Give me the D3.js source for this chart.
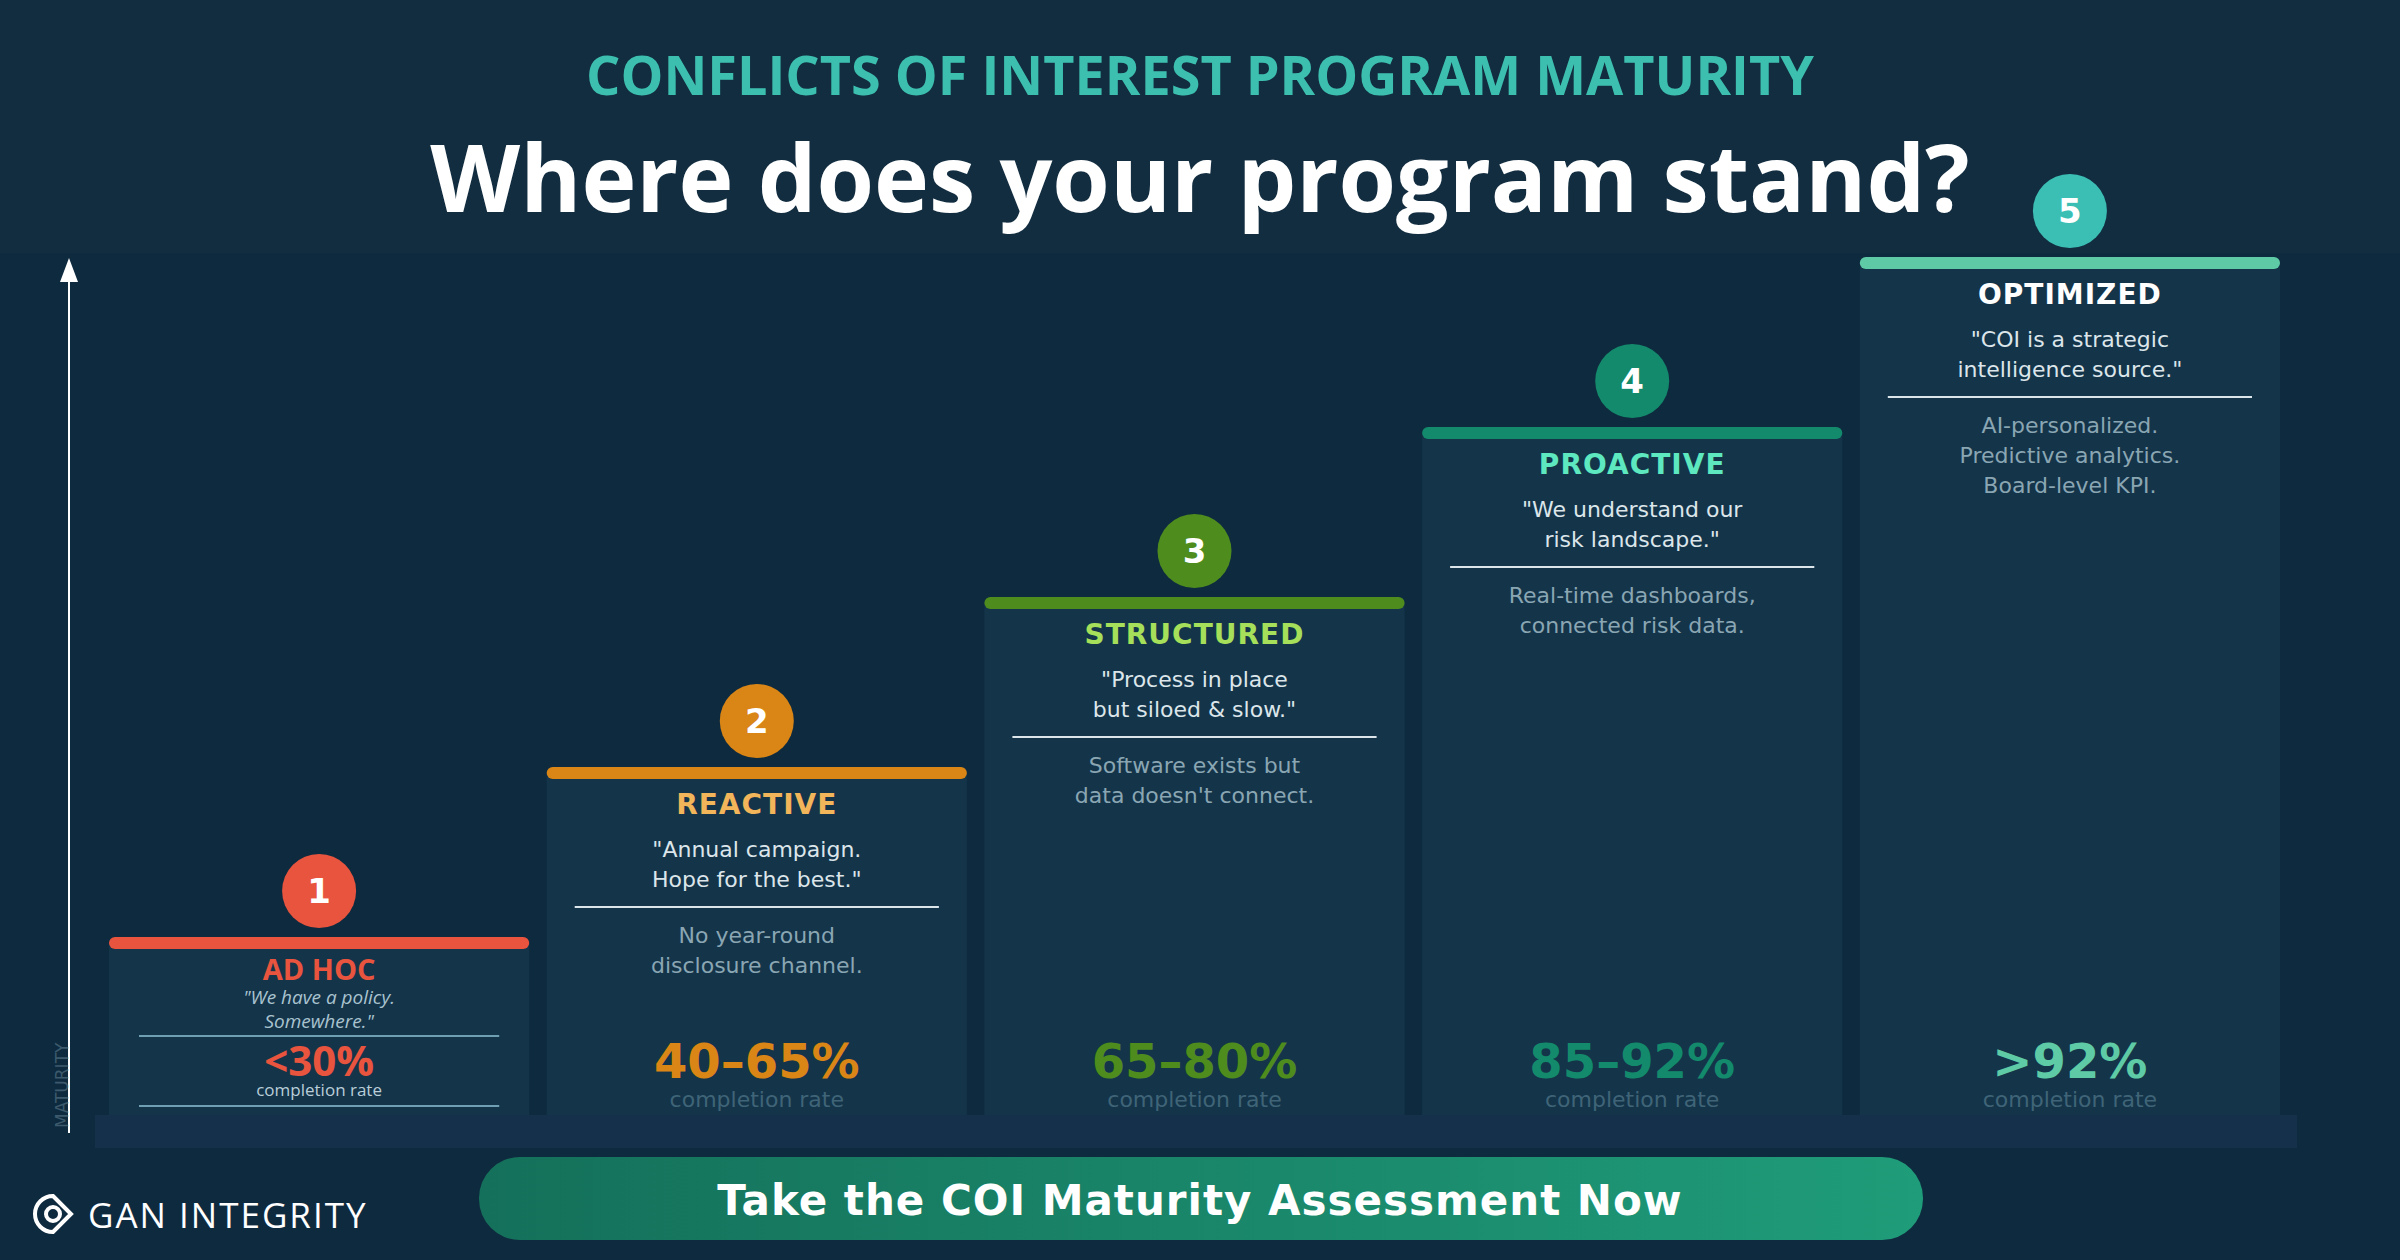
<!DOCTYPE html>
<html><head><meta charset="utf-8">
<script src="https://cdn.jsdelivr.net/npm/d3@7"></script>
<style>
body{margin:0;background:#0e2a3f;}
svg{display:block;font-family:"DejaVu Sans",sans-serif;}
</style></head>
<body>
<svg id="c" width="2400" height="1260"></svg>
<script>
// chart data
const levels = [1, 2, 3, 4, 5];
const names = ["AD HOC", "REACTIVE", "STRUCTURED", "PROACTIVE", "OPTIMIZED"];
const quotes = [
  ["\"We have a policy.", "Somewhere.\""],
  ["\"Annual campaign.", "Hope for the best.\""],
  ["\"Process in place", "but siloed & slow.\""],
  ["\"We understand our", "risk landscape.\""],
  ["\"COI is a strategic", "intelligence source.\""]
];
const details = [
  [],
  ["No year-round", "disclosure channel."],
  ["Software exists but", "data doesn't connect."],
  ["Real-time dashboards,", "connected risk data."],
  ["AI-personalized.", "Predictive analytics.", "Board-level KPI."]
];
const rates = ["<30%", "40–65%", "65–80%", "85–92%", ">92%"];
const accent = ["#e8543e", "#d98616", "#4e8c1e", "#138a6b", "#5ecba6"];
const badge = ["#e8543e", "#d98616", "#4e8c1e", "#138a6b", "#3bbfb5"];
const nameCol = ["#e8543e", "#f2b55a", "#a6e05a", "#5de8c0", "#ffffff"];

const svg = d3.select("#c");

// header band
svg.append("rect").attr("width", 2400).attr("height", 253).attr("fill", "#122d40");
svg.append("text").attr("x", 1200).attr("y", 95).attr("text-anchor", "middle")
  .attr("fill", "#3dbfb0").attr("font-size", 54).attr("font-weight", "bold")
  .attr("font-family", "'Open Sans',sans-serif")
  .text("CONFLICTS OF INTEREST PROGRAM MATURITY");
svg.append("text").attr("x", 1200).attr("y", 212).attr("text-anchor", "middle")
  .attr("fill", "#fff").attr("font-size", 93).attr("font-weight", "bold")
  .attr("font-family", "'Open Sans',sans-serif")
  .text("Where does your program stand?");

const x = d3.scaleBand().domain(levels).range([109, 2280]).paddingInner(0.04);
const y = d3.scaleLinear().domain([0, 5]).range([1113, 263]);
const bottom = 1115;

// axis
svg.append("line").attr("x1", 69).attr("x2", 69).attr("y1", 1133).attr("y2", 270)
  .attr("stroke", "#fff").attr("stroke-width", 2);
svg.append("path").attr("d", "M60,282 L69,258 L78,282 Z").attr("fill", "#fff");
svg.append("text").attr("transform", "translate(68,1128) rotate(-90)")
  .attr("fill", "#3c5a6c").attr("font-size", 17).text("MATURITY");

const g = svg.selectAll("g.step").data(levels).join("g").attr("class", "step");
g.append("rect").attr("x", d => x(d)).attr("y", d => y(d))
  .attr("width", x.bandwidth()).attr("height", d => bottom - y(d)).attr("fill", "#14344a");
g.append("rect").attr("x", d => x(d)).attr("y", d => y(d) - 6)
  .attr("width", x.bandwidth()).attr("height", 12).attr("rx", 6)
  .attr("fill", (d, i) => accent[i]);
g.append("circle").attr("cx", d => x(d) + x.bandwidth() / 2).attr("cy", d => y(d) - 52)
  .attr("r", 37).attr("fill", (d, i) => badge[i]);
g.append("text").attr("x", d => x(d) + x.bandwidth() / 2).attr("y", d => y(d) - 40)
  .attr("text-anchor", "middle").attr("fill", "#fff").attr("font-size", 34)
  .attr("font-weight", "bold").text(d => d);

g.each(function (d, i) {
  const s = d3.select(this), cx = x(d) + x.bandwidth() / 2, t = y(d);
  const w = x.bandwidth();
  if (i === 0) {
    s.append("text").attr("x", cx).attr("y", t + 37).attr("text-anchor", "middle")
      .attr("fill", nameCol[i]).attr("font-size", 29).attr("font-weight", "bold")
      .attr("font-family", "'Open Sans',sans-serif").text(names[i]);
    quotes[i].forEach((q, k) => s.append("text").attr("x", cx).attr("y", t + 61 + k * 24)
      .attr("text-anchor", "middle").attr("fill", "#a9c3cf").attr("font-size", 19)
      .attr("font-style", "italic").attr("font-family", "'Open Sans',sans-serif").text(q));
    [t + 93, t + 163].forEach(ly => s.append("line").attr("x1", x(d) + 30).attr("x2", x(d) + w - 30)
      .attr("y1", ly).attr("y2", ly).attr("stroke", "#6f9fb2").attr("stroke-width", 2));
    s.append("text").attr("x", cx).attr("y", t + 133).attr("text-anchor", "middle")
      .attr("fill", accent[i]).attr("font-size", 42).attr("font-weight", "bold")
      .attr("font-family", "'Open Sans',sans-serif").text(rates[i]);
    s.append("text").attr("x", cx).attr("y", t + 153).attr("text-anchor", "middle")
      .attr("fill", "#b9ced8").attr("font-size", 17).attr("font-family", "'Open Sans',sans-serif")
      .text("completion rate");
    return;
  }
  s.append("text").attr("x", cx).attr("y", t + 41).attr("text-anchor", "middle")
    .attr("fill", nameCol[i]).attr("font-size", 28).attr("font-weight", "bold")
    .attr("letter-spacing", 1).text(names[i]);
  quotes[i].forEach((q, k) => s.append("text").attr("x", cx).attr("y", t + 84 + k * 30)
    .attr("text-anchor", "middle").attr("fill", "#dce6ea").attr("font-size", 22).text(q));
  s.append("line").attr("x1", x(d) + 28).attr("x2", x(d) + w - 28)
    .attr("y1", t + 134).attr("y2", t + 134).attr("stroke", "#dce6ea").attr("stroke-width", 2);
  details[i].forEach((q, k) => s.append("text").attr("x", cx).attr("y", t + 170 + k * 30)
    .attr("text-anchor", "middle").attr("fill", "#8aa6b3").attr("font-size", 22).text(q));
  s.append("text").attr("x", cx).attr("y", 1078).attr("text-anchor", "middle")
    .attr("fill", accent[i]).attr("font-size", 48).attr("font-weight", "bold").text(rates[i]);
  s.append("text").attr("x", cx).attr("y", 1107).attr("text-anchor", "middle")
    .attr("fill", "#3f6477").attr("font-size", 22).text("completion rate");
});

// base platform
svg.append("rect").attr("x", 95).attr("y", 1115).attr("width", 2202).attr("height", 33).attr("fill", "#14304a");

// button
const grad = svg.append("defs").append("linearGradient").attr("id", "bg");
grad.append("stop").attr("offset", "0%").attr("stop-color", "#14705a");
grad.append("stop").attr("offset", "100%").attr("stop-color", "#1f9c79");
svg.append("rect").attr("x", 479).attr("y", 1157).attr("width", 1444).attr("height", 83)
  .attr("rx", 41).attr("fill", "url(#bg)");
svg.append("text").attr("x", 1200).attr("y", 1215).attr("text-anchor", "middle")
  .attr("fill", "#fff").attr("font-size", 42).attr("font-weight", "bold").attr("letter-spacing", 1)
  .text("Take the COI Maturity Assessment Now");

// logo
const lg = svg.append("g").attr("transform", "translate(55,1215)");
lg.append("path").attr("d", "M0,-32 L18,-14 L0,4 A18,18 0 1,1 0,-32 Z")
  .attr("transform", "translate(-2,13)").attr("fill", "none").attr("stroke", "#fff").attr("stroke-width", 4);
lg.append("circle").attr("cx", -2).attr("cy", -1).attr("r", 7).attr("fill", "none")
  .attr("stroke", "#fff").attr("stroke-width", 4);
svg.append("text").attr("x", 88).attr("y", 1228).attr("fill", "#fff").attr("font-size", 35)
  .attr("font-family", "'Open Sans',sans-serif").attr("letter-spacing", 2).text("GAN INTEGRITY");
</script>
</body></html>
